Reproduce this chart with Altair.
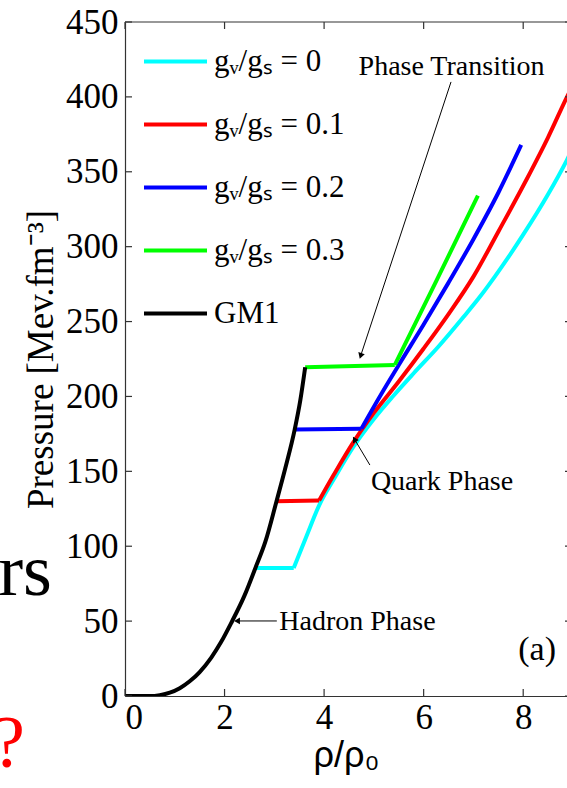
import altair as alt
import pandas as pd

# ---------------- data ----------------
series_names = ["gᵥ/gₛ = 0", "gᵥ/gₛ = 0.1", "gᵥ/gₛ = 0.2", "gᵥ/gₛ = 0.3", "GM1"]
series_colors = ["#00FFFF", "#FF0000", "#0000FF", "#00FF00", "#000000"]

# mixed-phase plateaus (flat parts)
plateau_start = [2.62, 3.04, 3.41, 3.62]
plateau_end = [3.39, 3.90, 4.75, 5.42]
plateau_p0 = [85.5, 130, 178, 219.5]
plateau_p1 = [85.5, 130.5, 178.5, 221]

# quark-phase branches (rising parts, starting at plateau end)
cyan_x = [3.39, 3.65, 3.91, 4.2, 4.58, 5.0, 5.38, 5.8, 6.29, 6.8, 7.13, 7.43, 8.0, 8.5, 8.88, 9.0]
cyan_y = [85.5, 107, 128, 145, 166, 185, 200, 215.5, 233, 253, 266.5, 280, 308, 335, 358, 366]

red_x = [3.90, 4.2, 4.58, 5.0, 5.5, 6.0, 6.5, 7.0, 7.5, 8.07, 8.5, 8.88, 9.0]
red_y = [130.5, 148, 169, 189, 210, 232, 255, 280, 310, 345, 373, 400, 408]

blue_x = [4.75, 5.12, 5.5, 6.0, 6.5, 7.0, 7.5, 7.96]
blue_y = [178.5, 200, 221, 248, 276, 305, 336, 368]

green_x = [5.42, 6.26, 7.09]
green_y = [221, 277.5, 334]

gm1_x = [0, 0.3, 0.5, 0.7, 0.9, 1.1, 1.3, 1.5, 1.73, 1.93, 2.13, 2.4, 2.62, 2.82, 3.04, 3.22, 3.41, 3.52, 3.62]
gm1_y = [0, 0, 0, 0.6, 2.2, 5.2, 9.8, 16, 25.5, 36, 48.5, 67, 85.5, 103, 129.5, 152, 178, 197, 219.5]

x_ticks = [0, 2, 4, 6, 8]
y_ticks = [0, 50, 100, 150, 200, 250, 300, 350, 400, 450]

# annotations (data coordinates)
ann_text = ["Phase Transition", "Quark Phase", "Hadron Phase", "(a)"]
ann_x = [6.56, 4.94, 3.10, 8.28]
ann_y = [414.6, 137.5, 44.1, 24.0]
ann_align = ["center", "left", "left", "center"]
ann_size = [28, 28, 28, 34]

arrow_x = [6.55, 4.92, 3.05]
arrow_y = [410, 154.2, 50.1]
arrow_x2 = [4.74, 4.62, 2.27]
arrow_y2 = [227.7, 170.9, 50.1]
arrow_angle = [198, 329, 270]

stray_text = ["rs", "?"]
stray_x = [-1.47, -2.01]
stray_y = [67.4, -47.4]
stray_color = ["#000000", "#FF0000"]

# ---------------- tables ----------------
rows = []
branches = [cyan_x, red_x, blue_x, green_x]
branches_y = [cyan_y, red_y, blue_y, green_y]
for k in range(4):
    name = series_names[k]
    rows.append({"series": name, "seg": f"{k}a", "x": plateau_start[k], "y": plateau_p0[k], "order": 0})
    rows.append({"series": name, "seg": f"{k}a", "x": plateau_end[k], "y": plateau_p1[k], "order": 1})
    for i, (x, y) in enumerate(zip(branches[k], branches_y[k])):
        rows.append({"series": name, "seg": f"{k}b", "x": x, "y": y, "order": i})
df_q = pd.DataFrame(rows)
df_h = pd.DataFrame({"series": series_names[4], "x": gm1_x, "y": gm1_y,
                     "order": list(range(len(gm1_x)))})

W, H = 442, 674
SERIF = "Liberation Serif"

xscale = alt.Scale(domain=[0, 8.88], nice=False, zero=False)
yscale = alt.Scale(domain=[0, 450], nice=False, zero=False)

xaxis = alt.Axis(values=x_ticks, format="d", ticks=False, tickSize=0, grid=False,
                 labelFont=SERIF, labelFontSize=35, labelColor="black", labelPadding=4,
                 domainColor="#333333", domainWidth=1.2,
                 title="ρ/ρ₀", titleFont="Liberation Sans", titleFontSize=36,
                 titleFontWeight="normal", titleColor="black", titlePadding=3)
yaxis = alt.Axis(values=y_ticks, format="d", ticks=False, tickSize=0, grid=False,
                 labelFont=SERIF, labelFontSize=35, labelColor="black", labelPadding=7,
                 domainColor="#333333", domainWidth=1.2,
                 title="Pressure [Mev.fm⁻³]", titleFont=SERIF, titleFontSize=37,
                 titleFontWeight="normal", titleColor="black", titlePadding=5)

X = alt.X("x:Q", scale=xscale, axis=xaxis)
Y = alt.Y("y:Q", scale=yscale, axis=yaxis)

color = alt.Color(
    "series:N",
    scale=alt.Scale(domain=series_names, range=series_colors),
    legend=alt.Legend(title=None, orient="none", legendX=17, legendY=6,
                      symbolType="stroke", symbolSize=3969, symbolStrokeWidth=4,
                      labelFont=SERIF, labelFontSize=31, labelColor="black",
                      labelOffset=5, rowPadding=14, padding=0, labelLimit=300),
)

quark = alt.Chart(df_q).mark_line(strokeWidth=4, clip=True, interpolate="monotone").encode(
    x=X, y=Y, color=color, detail="seg:N", order="order:Q")
hadron = alt.Chart(df_h).mark_line(strokeWidth=4, clip=True, interpolate="monotone").encode(
    x=X, y=Y, color=color, order="order:Q")

# frame ticks (inward)
df_yt = pd.DataFrame({"y": y_ticks})
df_xt = pd.DataFrame({"x": x_ticks})
left_ticks = alt.Chart(df_yt).mark_rule(color="#333333", strokeWidth=1.2).encode(
    y=Y, x=alt.value(0), x2=alt.value(7))
right_ticks = alt.Chart(df_yt).mark_rule(color="#333333", strokeWidth=1.2).encode(
    y=Y, x=alt.value(W - 2), x2=alt.value(W))
bottom_ticks = alt.Chart(df_xt).mark_rule(color="#333333", strokeWidth=1.2).encode(
    x=X, y=alt.value(H), y2=alt.value(H - 7))
top_ticks = alt.Chart(df_xt).mark_rule(color="#333333", strokeWidth=1.2).encode(
    x=X, y=alt.value(0), y2=alt.value(7))
top_line = alt.Chart(df_xt.head(1)).mark_rule(color="#333333", strokeWidth=1.2).encode(
    x=alt.value(0), x2=alt.value(W), y=alt.value(0))

# annotations
df_ann = pd.DataFrame({"t": ann_text, "x": ann_x, "y": ann_y})
ann_layers = []
for i in range(len(ann_text)):
    ann_layers.append(
        alt.Chart(df_ann.iloc[[i]]).mark_text(
            font=SERIF, fontSize=ann_size[i], align=ann_align[i],
            baseline="alphabetic", color="black").encode(x=X, y=Y, text="t:N"))

df_arr = pd.DataFrame({"x": arrow_x, "y": arrow_y, "x2": arrow_x2, "y2": arrow_y2})
arrows = alt.Chart(df_arr).mark_rule(color="black", strokeWidth=1).encode(
    x=X, y=Y, x2="x2:Q", y2="y2:Q")
heads = []
for i in range(3):
    d = pd.DataFrame({"x": [arrow_x2[i]], "y": [arrow_y2[i]]})
    heads.append(alt.Chart(d).mark_point(shape="triangle", filled=True, size=45,
                                         color="black", opacity=1,
                                         angle=arrow_angle[i]).encode(x=X, y=Y))

df_stray = pd.DataFrame({"t": stray_text, "x": stray_x, "y": stray_y, "c": stray_color})
stray = alt.Chart(df_stray).mark_text(font=SERIF, fontSize=74, align="right",
                                      baseline="alphabetic").encode(
    x=X, y=Y, text="t:N", color=alt.Color("c:N", scale=None, legend=None))

chart = alt.layer(
    quark, hadron, left_ticks, right_ticks, bottom_ticks, top_ticks, top_line,
    arrows, *heads, *ann_layers, stray
).properties(
    width=W, height=H,
    autosize=alt.AutoSizeParams(type="none"),
    padding={"left": 125, "top": 22, "right": 0, "bottom": 92},
    background="white",
).configure_view(stroke=None)

chart.save("out.html", embed_options={"renderer": "svg", "actions": False})
